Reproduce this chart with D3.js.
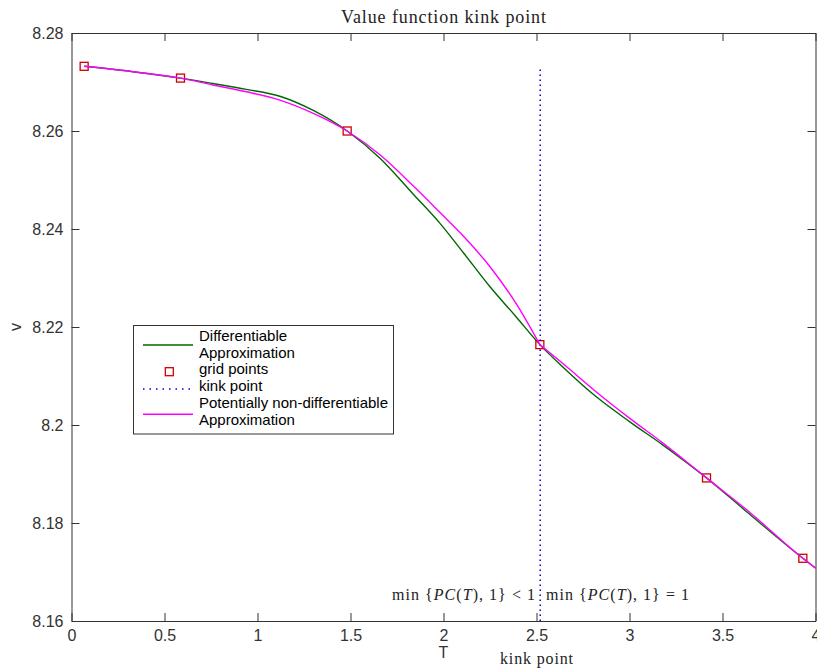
<!DOCTYPE html>
<html>
<head>
<meta charset="utf-8">
<script src="https://cdn.jsdelivr.net/npm/d3@7"></script>
<style>
  body { margin: 0; background: #fff; }
  svg { display: block; }
</style>
</head>
<body>
<div id="chart"></div>
<script>
// grid points (chebyshev nodes on [0,4])
const gridT = [0.068, 0.586, 1.482, 2.518, 3.414, 3.932];
const gridV = [8.2732, 8.2708, 8.2600, 8.2164, 8.1892, 8.1728];

// differentiable approximation (green)
const greenT = [0.068, 0.33, 0.586, 0.76, 0.94, 1.12, 1.30, 1.482, 1.66, 1.84, 1.98, 2.11, 2.25, 2.39, 2.518, 2.64, 2.82, 3.00, 3.18, 3.414, 3.63, 3.932, 4.0];
const greenV = [8.2732, 8.2721, 8.2708, 8.2697, 8.2685, 8.2671, 8.2642, 8.2600, 8.2544, 8.2470, 8.2412, 8.2350, 8.2282, 8.2221, 8.2164, 8.2119, 8.2058, 8.2007, 8.1959, 8.1892, 8.1823, 8.1728, 8.1708];

// potentially non-differentiable approximation (magenta)
const magT = [0.068, 0.33, 0.586, 0.76, 0.94, 1.12, 1.30, 1.482, 1.66, 1.84, 1.98, 2.11, 2.25, 2.39, 2.518, 2.64, 2.82, 3.00, 3.18, 3.414, 3.63, 3.932, 4.0];
const magV = [8.2732, 8.2721, 8.2708, 8.2694, 8.2680, 8.2663, 8.2636, 8.2600, 8.2551, 8.2487, 8.2434, 8.2384, 8.2323, 8.2248, 8.2164, 8.2126, 8.2068, 8.2014, 8.1963, 8.1892, 8.1827, 8.1728, 8.1708];

const kinkT = 2.52;

const xTicks = [0, 0.5, 1, 1.5, 2, 2.5, 3, 3.5, 4];
const yTicks = [8.16, 8.18, 8.2, 8.22, 8.24, 8.26, 8.28];
const legendLabels = [["Differentiable", "Approximation"], ["grid points"], ["kink point"], ["Potentially non-differentiable", "Approximation"]];

const width = 817;
const height = 668;
const pLeft = 71.5, pRight = 815.5, pTop = 33, pBottom = 621;
const axisColor = "#333";
const sans = "'Liberation Sans', Arial, Helvetica, sans-serif";
const serif = "'Liberation Serif', 'Times New Roman', serif";

const x = d3.scaleLinear().domain([0, 4]).range([pLeft, pRight]);
const y = d3.scaleLinear().domain([8.16, 8.28]).range([pBottom, pTop]);

const svg = d3.select("#chart").append("svg")
  .attr("width", width)
  .attr("height", height);

svg.append("rect").attr("width", width).attr("height", height).attr("fill", "#fff");

// axes - ticks pointing inward, box all round
const styleAxis = (g) => {
  g.selectAll(".domain").attr("stroke", axisColor).attr("stroke-width", 1);
  g.selectAll(".tick line").attr("stroke", axisColor).attr("stroke-width", 1);
  g.selectAll(".tick text").attr("fill", axisColor).style("font-family", sans).style("font-size", "16px");
};

svg.append("g")
  .attr("transform", `translate(0,${pBottom})`)
  .call(d3.axisBottom(x).tickValues(xTicks).tickSizeInner(-8).tickSizeOuter(0).tickPadding(9).tickFormat(d3.format("")))
  .call(styleAxis);

svg.append("g")
  .attr("transform", `translate(0,${pTop})`)
  .call(d3.axisTop(x).tickValues(xTicks).tickSizeInner(-8).tickSizeOuter(0).tickFormat(""))
  .call(styleAxis);

svg.append("g")
  .attr("transform", `translate(${pLeft},0)`)
  .call(d3.axisLeft(y).tickValues(yTicks).tickSizeInner(-8).tickSizeOuter(0).tickPadding(8).tickFormat(d3.format("")))
  .call(styleAxis);

svg.append("g")
  .attr("transform", `translate(${pRight},0)`)
  .call(d3.axisRight(y).tickValues(yTicks).tickSizeInner(-8).tickSizeOuter(0).tickFormat(""))
  .call(styleAxis);

// lines
const line = d3.line()
  .x((d) => x(d[0]))
  .y((d) => y(d[1]))
  .curve(d3.curveMonotoneX);

const greenData = greenT.map((t, i) => [t, greenV[i]]);
const magData = magT.map((t, i) => [t, magV[i]]);

svg.append("path")
  .attr("d", line(greenData))
  .attr("fill", "none")
  .attr("stroke", "#006600")
  .attr("stroke-width", 1.4);

svg.selectAll(".grid")
  .data(gridT.map((t, i) => [t, gridV[i]]))
  .enter()
  .append("rect")
  .attr("class", "grid")
  .attr("x", (d) => x(d[0]) - 4)
  .attr("y", (d) => y(d[1]) - 4)
  .attr("width", 8)
  .attr("height", 8)
  .attr("fill", "none")
  .attr("stroke", "#cc0000")
  .attr("stroke-width", 1.3);

svg.append("line")
  .attr("x1", x(kinkT)).attr("x2", x(kinkT))
  .attr("y1", y(8.16)).attr("y2", y(d3.max(gridV)))
  .attr("stroke", "#0000cc")
  .attr("stroke-width", 1.5)
  .attr("stroke-dasharray", "1.5,3.5");

// magenta has a kink at the grid point next to kinkT, draw two pieces
const kIdx = magT.indexOf(2.518);
svg.append("path")
  .attr("d", line(magData.slice(0, kIdx + 1)) + line(magData.slice(kIdx)))
  .attr("fill", "none")
  .attr("stroke", "#ff00ff")
  .attr("stroke-width", 1.4);

// title and labels
svg.append("text")
  .attr("x", (pLeft + pRight) / 2)
  .attr("y", 23)
  .attr("text-anchor", "middle")
  .attr("textLength", 205)
  .style("font-family", serif)
  .style("font-size", "18px")
  .attr("fill", "#222")
  .text("Value function kink point");

svg.append("text")
  .attr("x", (pLeft + pRight) / 2)
  .attr("y", 658)
  .attr("text-anchor", "middle")
  .style("font-family", sans)
  .style("font-size", "16px")
  .attr("fill", axisColor)
  .text("T");

svg.append("text")
  .attr("transform", `translate(21,${(pTop + pBottom) / 2}) rotate(-90)`)
  .attr("text-anchor", "middle")
  .style("font-family", sans)
  .style("font-size", "16px")
  .attr("fill", axisColor)
  .text("v");

svg.append("text")
  .attr("x", 500)
  .attr("y", 664)
  .attr("textLength", 73)
  .style("font-family", serif)
  .style("font-size", "16px")
  .attr("fill", "#222")
  .text("kink point");

// min{PC(T),1} annotations
const mathText = (xPos, anchor, rel) => {
  const t = svg.append("text")
    .attr("x", xPos)
    .attr("y", 600)
    .attr("text-anchor", anchor)
    .attr("textLength", 143)
    .style("font-family", serif)
    .style("font-size", "16px")
    .attr("fill", "#222");
  t.append("tspan").text("min {");
  t.append("tspan").style("font-style", "italic").text("PC");
  t.append("tspan").text("(");
  t.append("tspan").style("font-style", "italic").text("T");
  t.append("tspan").text("), 1} " + rel + " 1");
};
mathText(535, "end", "<");
mathText(546, "start", "=");

// legend
const lg = svg.append("g");
lg.append("rect")
  .attr("x", 133.5).attr("y", 325.5)
  .attr("width", 260).attr("height", 108.5)
  .attr("fill", "#fff")
  .attr("stroke", axisColor)
  .attr("stroke-width", 1);

const baselines = [340.7, 357.5, 374.3, 391.3, 408.2, 425];
let row = 0;
legendLabels.forEach((lines) => {
  lines.forEach((s) => {
    lg.append("text")
      .attr("x", 199)
      .attr("y", baselines[row])
      .style("font-family", sans)
      .style("font-size", "15px")
      .attr("fill", "#000")
      .text(s);
    row++;
  });
});

lg.append("line").attr("x1", 143).attr("x2", 193).attr("y1", 345).attr("y2", 345)
  .attr("stroke", "#006600").attr("stroke-width", 1.4);
lg.append("rect").attr("x", 169.3 - 4).attr("y", 371.7 - 4).attr("width", 8).attr("height", 8)
  .attr("fill", "none").attr("stroke", "#cc0000").attr("stroke-width", 1.3);
lg.append("line").attr("x1", 143).attr("x2", 193).attr("y1", 389).attr("y2", 389)
  .attr("stroke", "#0000cc").attr("stroke-width", 1.5).attr("stroke-dasharray", "1.5,5");
lg.append("line").attr("x1", 143).attr("x2", 193).attr("y1", 414.3).attr("y2", 414.3)
  .attr("stroke", "#ff00ff").attr("stroke-width", 1.4);
</script>
</body>
</html>
